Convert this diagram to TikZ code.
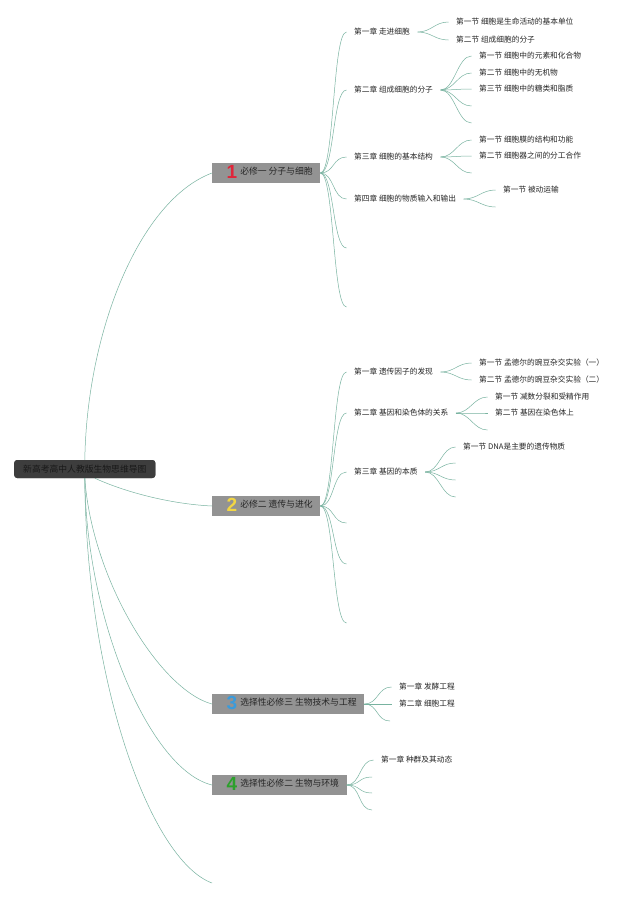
\documentclass[tikz,border=0pt]{standalone}
\usepackage{fontspec}
\setmainfont{Noto Sans CJK SC}
\newfontfamily\numfont{Liberation Sans}
\usetikzlibrary{calc}
\definecolor{edgecol}{HTML}{78B3A0}
\definecolor{txt}{HTML}{262626}
\definecolor{modfill}{HTML}{939393}
\definecolor{rootfill}{HTML}{3D3D3D}
\definecolor{nred}{HTML}{E0263A}
\definecolor{nyel}{HTML}{F2D643}
\definecolor{nblue}{HTML}{3A9BDC}
\definecolor{ngreen}{HTML}{2CA02C}
\newcommand{\modnum}[2]{\hspace{7pt}\raisebox{-3.6pt}{\smash{\color{#1}\numfont\bfseries\fontsize{19}{19}\selectfont #2}}\hspace{3pt}}
\tikzset{
  edge/.style={draw=edgecol, line width=0.5pt},
  brc/.style={to path={.. controls +(14,0) and +(-14,0) .. (\tikztotarget)}},
  lbl/.style={anchor=west, inner xsep=7.5pt, inner ysep=1pt, text=txt, font=\fontsize{7.7}{9}\selectfont},
  modbox/.style={anchor=west, fill=modfill, minimum height=20pt, inner xsep=7.5pt, inner ysep=0pt, text=black!85, font=\fontsize{8.8}{10}\selectfont},
  rootbox/.style={anchor=west, fill=rootfill, rounded corners=3pt, minimum height=18pt, inner xsep=9pt, inner ysep=0pt, text=black!90, font=\fontsize{8.8}{10}\selectfont}
}
\begin{document}
\begin{tikzpicture}[x=1pt,y=-1pt]
\useasboundingbox (0,0) rectangle (640,897);
\fill[white] (0,0) rectangle (640,897);

% ---------- nodes ----------
\node[rootbox] (root) at (14,469) {新高考高中人教版生物思维导图};

\node[modbox] (m1) at (212,173) {\modnum{nred}{1}必修一 分子与细胞};
\node[modbox] (m2) at (212,506) {\modnum{nyel}{2}必修二 遗传与进化};
\node[modbox] (m3) at (212,704) {\modnum{nblue}{3}选择性必修三 生物技术与工程};
\node[modbox] (m4) at (212,785) {\modnum{ngreen}{4}选择性必修二 生物与环境};
\coordinate (m5) at (212,883);

% module 1
\node[lbl] (c11) at (346.5,32) {第一章 走进细胞};
\node[lbl] (c12) at (346.5,90) {第二章 组成细胞的分子};
\node[lbl] (c13) at (346.5,157) {第三章 细胞的基本结构};
\node[lbl] (c14) at (346.5,199) {第四章 细胞的物质输入和输出};
\coordinate (c15) at (346.5,248);
\coordinate (c16) at (346.5,307);

\node[lbl] (s111) at (448.5,22) {第一节 细胞是生命活动的基本单位};
\node[lbl] (s112) at (448.5,40) {第二节 组成细胞的分子};

\node[lbl] (s121) at (471.5,56) {第一节 细胞中的元素和化合物};
\node[lbl] (s122) at (471.5,73) {第二节 细胞中的无机物};
\node[lbl] (s123) at (471.5,89) {第三节 细胞中的糖类和脂质};
\coordinate (s124) at (471.5,106);
\coordinate (s125) at (471.5,123);

\node[lbl] (s131) at (471.5,140) {第一节 细胞膜的结构和功能};
\node[lbl] (s132) at (471.5,156) {第二节 细胞器之间的分工合作};
\coordinate (s133) at (471.5,173);

\node[lbl] (s141) at (495.5,190) {第一节 被动运输};
\coordinate (s142) at (495.5,207);

% module 2
\node[lbl] (c21) at (346.5,372) {第一章 遗传因子的发现};
\node[lbl] (c22) at (346.5,413) {第二章 基因和染色体的关系};
\node[lbl] (c23) at (346.5,472) {第三章 基因的本质};
\coordinate (c24) at (346.5,523);
\coordinate (c25) at (346.5,564);
\coordinate (c26) at (346.5,623);

\node[lbl] (s211) at (471.5,363) {第一节 孟德尔的豌豆杂交实验（一）};
\node[lbl] (s212) at (471.5,380) {第二节 孟德尔的豌豆杂交实验（二）};

\node[lbl] (s221) at (487.5,397) {第一节 减数分裂和受精作用};
\node[lbl] (s222) at (487.5,413) {第二节 基因在染色体上};
\coordinate (s223) at (487.5,430);

\node[lbl] (s231) at (455.5,447) {第一节 DNA是主要的遗传物质};
\coordinate (s232) at (455.5,463);
\coordinate (s233) at (455.5,480);
\coordinate (s234) at (455.5,497);

% module 3
\node[lbl] (c31) at (391.5,687) {第一章 发酵工程};
\node[lbl] (c32) at (391.5,704) {第二章 细胞工程};
\coordinate (c33) at (390,721);

% module 4
\node[lbl] (c41) at (373.5,760) {第一章 种群及其动态};
\coordinate (c42) at (372,777);
\coordinate (c43) at (372,793);
\coordinate (c44) at (372,810);

% ---------- connectors ----------
\draw[edge] (root.north) .. controls (87,330) and (140,200) .. (m1.west);
\draw[edge] ($(root.south)+(10,0)$) .. controls (125,492) and (170,504) .. (m2.west);
\draw[edge] (root.south) .. controls (92,580) and (160,690) .. (m3.west);
\draw[edge] (root.south) .. controls (86,620) and (150,770) .. (m4.west);
\draw[edge] (root.south) .. controls (86,680) and (150,860) .. (m5);

\foreach \c in {c11,c12,c13,c14}{\draw[edge] (m1.east) to[brc] (\c.west);}
\foreach \c in {c15,c16}{\draw[edge] (m1.east) to[brc] (\c);}
\foreach \s in {s111,s112}{\draw[edge] (c11.east) to[brc] (\s.west);}
\foreach \s in {s121,s122,s123}{\draw[edge] (c12.east) to[brc] (\s.west);}
\foreach \s in {s124,s125}{\draw[edge] (c12.east) to[brc] (\s);}
\foreach \s in {s131,s132}{\draw[edge] (c13.east) to[brc] (\s.west);}
\draw[edge] (c13.east) to[brc] (s133);
\draw[edge] (c14.east) to[brc] (s141.west);
\draw[edge] (c14.east) to[brc] (s142);

\foreach \c in {c21,c22,c23}{\draw[edge] (m2.east) to[brc] (\c.west);}
\foreach \c in {c24,c25,c26}{\draw[edge] (m2.east) to[brc] (\c);}
\foreach \s in {s211,s212}{\draw[edge] (c21.east) to[brc] (\s.west);}
\foreach \s in {s221,s222}{\draw[edge] (c22.east) to[brc] (\s.west);}
\draw[edge] (c22.east) to[brc] (s223);
\draw[edge] (c23.east) to[brc] (s231.west);
\foreach \s in {s232,s233,s234}{\draw[edge] (c23.east) to[brc] (\s);}

\foreach \c in {c31,c32}{\draw[edge] (m3.east) to[brc] (\c.west);}
\draw[edge] (m3.east) to[brc] (c33);
\draw[edge] (m4.east) to[brc] (c41.west);
\foreach \c in {c42,c43,c44}{\draw[edge] (m4.east) to[brc] (\c);}

% redraw root on top
\node[rootbox] at (14,469) {新高考高中人教版生物思维导图};
\end{tikzpicture}
\end{document}
